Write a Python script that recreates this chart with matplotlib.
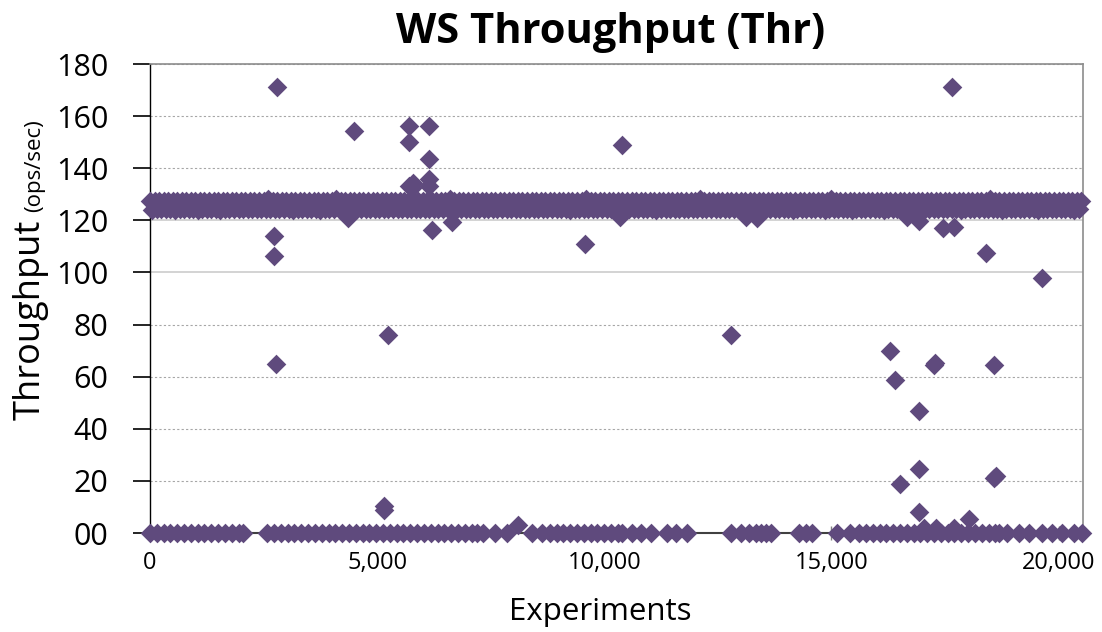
import numpy as np
import matplotlib.pyplot as plt
from matplotlib.ticker import FuncFormatter, MultipleLocator

plt.rcParams['font.family'] = ['Open Sans', 'DejaVu Sans']

# sampled experiments of the main ~126 ops/sec band (upper and lower edge of the band)
band_top_exp = np.arange(0, 20501, 100)
band_low_exp = np.arange(50, 20451, 100)

band_top = [
    127.6, 127.6, 127.6, 127.6, 127.6, 127.6, 127.6, 127.6, 127.6, 127.6,
    127.6, 127.6, 127.6, 127.6, 127.6, 127.6, 127.6, 127.6, 127.6, 127.6,
    127.6, 127.6, 127.6, 127.6, 127.6, 127.6, 128.2, 127.6, 127.6, 127.6,
    127.6, 127.6, 127.6, 127.6, 127.6, 127.6, 127.6, 127.6, 127.6, 127.6,
    127.6, 128.2, 127.6, 127.6, 127.6, 127.6, 127.6, 127.6, 127.6, 127.6,
    127.6, 127.6, 127.6, 127.6, 127.6, 127.6, 127.6, 127.6, 127.6, 127.6,
    127.6, 127.6, 127.6, 127.6, 127.6, 127.6, 128.2, 127.6, 127.6, 127.6,
    127.6, 127.6, 127.6, 127.6, 127.6, 127.6, 127.6, 127.6, 127.6, 127.6,
    127.6, 127.6, 127.6, 127.6, 127.6, 127.6, 127.6, 127.6, 127.6, 127.6,
    127.6, 127.6, 127.6, 127.6, 127.6, 127.6, 128.2, 127.6, 127.6, 127.6,
    127.6, 127.6, 127.6, 127.6, 127.6, 127.6, 127.6, 127.6, 127.6, 127.6,
    127.6, 127.6, 127.6, 127.6, 127.6, 127.6, 127.6, 127.6, 127.6, 127.6,
    127.6, 128.2, 127.6, 127.6, 127.6, 127.6, 127.6, 127.6, 127.6, 127.6,
    127.6, 127.6, 127.6, 127.6, 127.6, 127.6, 127.6, 127.6, 127.6, 127.6,
    127.6, 127.6, 127.6, 127.6, 127.6, 127.6, 127.6, 127.6, 127.6, 127.6,
    128.2, 127.6, 127.6, 127.6, 127.6, 127.6, 127.6, 127.6, 127.6, 127.6,
    127.6, 127.6, 127.6, 127.6, 127.6, 127.6, 127.6, 127.6, 127.6, 127.6,
    127.6, 127.6, 127.6, 127.6, 127.6, 127.6, 127.6, 127.6, 127.6, 127.6,
    127.6, 127.6, 127.6, 127.6, 127.6, 128.2, 127.6, 127.6, 127.6, 127.6,
    127.6, 127.6, 127.6, 127.6, 127.6, 127.6, 127.6, 127.6, 127.6, 127.6,
    127.6, 127.6, 127.6, 127.6, 127.6, 127.6,
]

band_low = [
    123.8, 124.4, 124.4, 124.4, 124.4, 123.8, 124.4, 124.4, 124.4, 124.4,
    123.8, 124.4, 124.4, 124.4, 124.4, 123.8, 124.4, 124.4, 124.4, 124.4,
    124.4, 124.4, 124.4, 124.4, 124.4, 124.4, 124.4, 124.4, 124.4, 124.4,
    124.4, 123.8, 124.4, 124.4, 124.4, 124.4, 124.4, 123.8, 124.4, 124.4,
    124.4, 124.4, 124.4, 124.4, 124.4, 124.4, 124.4, 124.4, 124.4, 124.4,
    124.4, 124.4, 124.4, 124.4, 124.4, 124.4, 124.4, 124.4, 124.4, 124.4,
    124.4, 124.4, 124.4, 124.4, 124.4, 124.4, 124.4, 124.4, 124.4, 124.4,
    124.4, 124.4, 124.4, 124.4, 124.4, 124.4, 124.4, 124.4, 124.4, 124.4,
    124.4, 124.4, 124.4, 124.4, 124.4, 124.4, 124.4, 124.4, 124.4, 124.4,
    124.4, 124.4, 123.8, 124.4, 124.4, 124.4, 124.4, 124.4, 124.4, 124.4,
    124.4, 124.4, 124.4, 124.4, 124.4, 124.4, 124.4, 124.4, 124.4, 124.4,
    124.4, 123.8, 124.4, 124.4, 124.4, 124.4, 124.4, 124.4, 124.4, 124.4,
    124.4, 124.4, 124.4, 124.4, 124.4, 124.4, 124.4, 124.4, 124.4, 124.4,
    124.4, 124.4, 124.4, 124.4, 124.4, 124.4, 124.4, 124.4, 124.4, 124.4,
    124.4, 123.8, 124.4, 124.4, 124.4, 124.4, 124.4, 124.4, 123.8, 124.4,
    124.4, 124.4, 124.4, 124.4, 123.8, 124.4, 124.4, 124.4, 124.4, 124.4,
    124.4, 123.8, 124.4, 124.4, 124.4, 124.4, 124.4, 124.4, 124.4, 124.4,
    124.4, 124.4, 124.4, 124.4, 124.4, 124.4, 124.4, 124.4, 123.8, 124.4,
    124.4, 124.4, 124.4, 124.4, 124.4, 124.4, 124.4, 123.8, 124.4, 124.4,
    124.4, 124.4, 124.4, 124.4, 124.4, 123.8, 124.4, 124.4, 124.4, 124.4,
    124.4, 124.4, 124.4, 123.8, 124.4,
]

# experiments that returned 0 ops/sec
zero_exp = [
    0, 150, 300, 450, 600, 750, 900, 1050, 1200, 1350, 1500, 1650, 1800, 1950, 2040,
    2580, 2730, 2880, 3030, 3180, 3330, 3480, 3630, 3780, 3930, 4080, 4230, 4380,
    4530, 4680, 4830, 4980, 5130, 5280, 5430, 5580, 5730, 5880, 6030, 6180, 6330,
    6480, 6630, 6780, 6930, 7080, 7190,
    7320, 7590, 7850, 8420, 8640, 8800, 8950, 9100, 9250, 9400, 9550, 9700, 9850,
    10000, 10150, 10300, 10400, 10620, 10820, 11040, 11390, 11590, 11830,
    12800, 13020, 13190, 13350, 13460, 13570, 13680,
    14290, 14450, 14580,
    15130, 15400, 15610, 15760, 15910, 16060, 16210, 16360, 16510, 16660, 16810,
    16960, 17110, 17260, 17410, 17560, 17710, 17860, 18010, 18160, 18310, 18460,
    18610, 18690, 18870, 19130, 19350, 19640, 19860, 20080, 20340, 20520,
]

# isolated measurements away from the band / zero line
out_exp = [2800, 17665, 4493, 5703, 5703, 6143, 6143, 6143, 6143, 5703, 5800, 5760,
           10400, 2727, 2727, 4362, 6217, 6657, 9582, 10345, 13117, 13370, 16668,
           16925, 17447, 17703, 18400, 19633, 2770, 5234, 12800, 16290, 16407, 17286,
           17260, 18569, 16935, 16516, 16935, 18620, 18580, 5150, 5150, 16935, 18020,
           8100, 17040, 17300, 17700]
out_val = [171.0, 171.0, 154.3, 156.2, 150.2, 156.2, 143.6, 135.7, 133.2, 133.3, 134.2, 132.4,
           149.0, 114.0, 106.3, 120.8, 116.3, 119.2, 110.9, 121.4, 121.4, 120.8, 121.4,
           119.7, 117.2, 117.6, 107.6, 97.7, 64.8, 76.0, 76.0, 70.0, 58.7, 65.4,
           64.3, 64.5, 46.9, 18.7, 24.4, 21.9, 21.3, 10.3, 8.7, 8.2, 5.3,
           3.0, 2.0, 2.0, 2.0]

color = '#5f4a7d'
msize = 100

fig = plt.figure(figsize=(11.02, 6.32), dpi=100)
ax = fig.add_axes([0.1361, 0.1566, 0.8467, 0.7421])

ax.scatter(band_top_exp, band_top, marker='D', s=msize, color=color, linewidths=0, clip_on=False, zorder=3)
ax.scatter(band_low_exp, band_low, marker='D', s=msize, color=color, linewidths=0, clip_on=False, zorder=3)
ax.scatter(zero_exp, [0] * len(zero_exp), marker='D', s=msize, color=color, linewidths=0, clip_on=False, zorder=3)
ax.scatter(out_exp, out_val, marker='D', s=msize, color=color, linewidths=0, clip_on=False, zorder=3)

ax.set_xlim(0, 20540)
ax.set_ylim(0, 180)
ax.yaxis.set_major_locator(MultipleLocator(20))
ax.xaxis.set_major_locator(MultipleLocator(5000))
ax.yaxis.set_major_formatter(FuncFormatter(lambda v, p: '%02d' % v))
ax.xaxis.set_major_formatter(FuncFormatter(lambda v, p: '{:,.0f}'.format(v)))

ax.spines['left'].set_color('black')
ax.spines['left'].set_linewidth(1.0)
ax.spines['bottom'].set_color('#404040')
ax.spines['bottom'].set_linewidth(1.5)
for s in ['top', 'right']:
    ax.spines[s].set_color('#8c8c8c')
    ax.spines[s].set_linewidth(1.2)

ax.tick_params(axis='y', direction='out', length=12, width=1.2, color='black', labelsize=22, pad=18)
ax.tick_params(axis='x', direction='inout', length=10, width=1, color='#808080', labelsize=17, pad=8)

ax.set_axisbelow(True)
ax.yaxis.grid(True, color='#a6a6a6', linestyle=(0, (2, 2)), linewidth=0.8)
for tick_val, gl in zip(ax.get_yticks(), ax.yaxis.get_gridlines()):
    if tick_val in (100, 120):
        gl.set_linestyle('-')
        gl.set_color('#cccccc')
        gl.set_linewidth(1.2)

fig.text(0.554, 0.948, 'WS Throughput (Thr)', ha='center', va='center', fontsize=30, fontweight='bold')
fig.text(0.545, 0.032, 'Experiments', ha='center', va='center', fontsize=22.5)

t1 = fig.text(0.036, 0.3354, 'Throughput', rotation=90, rotation_mode='anchor',
              ha='left', va='baseline', fontsize=26)
r = fig.canvas.get_renderer()
bb = t1.get_window_extent(r).transformed(fig.transFigure.inverted())
fig.text(0.036, bb.y1 + 0.012, '(ops/sec)', rotation=90, rotation_mode='anchor',
         ha='left', va='baseline', fontsize=16)

fig.savefig('out.png', dpi=100)
